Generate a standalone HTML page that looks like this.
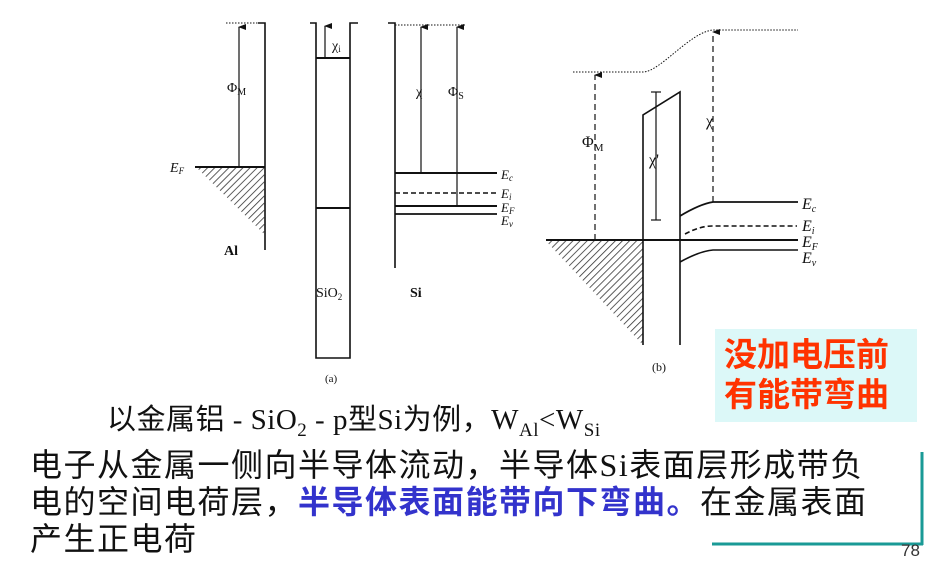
<!DOCTYPE html>
<html><head><meta charset="utf-8"><style>
html,body{margin:0;padding:0;background:#fff;}
body{width:943px;height:572px;position:relative;overflow:hidden;font-family:"Liberation Sans","Noto Sans CJK SC",sans-serif;}
.t{position:absolute;white-space:nowrap;}
</style></head><body>
<svg width="943" height="572" style="position:absolute;left:0;top:0" xmlns="http://www.w3.org/2000/svg">
<defs>
<pattern id="h" width="5" height="5" patternUnits="userSpaceOnUse" patternTransform="rotate(45)">
<line x1="0" y1="0" x2="0" y2="5" stroke="#333" stroke-width="1.6"/></pattern>
<marker id="a" markerWidth="6" markerHeight="8" refX="3" refY="1" orient="auto-start-reverse" markerUnits="userSpaceOnUse"><path d="M0,8 L3,0 L6,8 Z" fill="#111"/></marker>
</defs>
<g stroke="#111" fill="none" stroke-width="1.6">
<line x1="226" y1="23" x2="264" y2="23" stroke-dasharray="1.5,1.5" stroke-width="1"/>
<polyline points="258,23 265,23 265,250"/>
<line x1="195" y1="167" x2="265" y2="167" stroke-width="2"/>
<polygon points="197,168 265,168 265,235" fill="url(#h)" stroke="none"/>
<line x1="239" y1="167" x2="239" y2="27" stroke-width="1.2" marker-end="url(#a)"/>
<polyline points="310,23 316,23 316,358 350,358 350,23 358,23"/>
<line x1="316" y1="58" x2="350" y2="58" stroke-width="2"/>
<line x1="316" y1="208" x2="350" y2="208" stroke-width="2"/>
<line x1="325" y1="58" x2="325" y2="26" stroke-width="1.2" marker-end="url(#a)"/>
<polyline points="388,23 395,23 395,268"/>
<line x1="395" y1="25" x2="465" y2="25" stroke-dasharray="1.5,1.5" stroke-width="1"/>
<line x1="395" y1="173" x2="497" y2="173" stroke-width="2"/>
<line x1="395" y1="193" x2="497" y2="193" stroke-dasharray="5,3"/>
<line x1="395" y1="206" x2="497" y2="206" stroke-width="2"/>
<line x1="395" y1="214" x2="497" y2="214" stroke-width="1.8"/>
<line x1="421" y1="173" x2="421" y2="27" stroke-width="1.2" marker-end="url(#a)"/>
<line x1="457" y1="206" x2="457" y2="27" stroke-width="1.2" marker-end="url(#a)"/>
<path d="M573,72 L643,72 C660,72 690,32 713,30 L798,30" stroke-dasharray="1.5,1.5" stroke-width="1"/>
<polygon points="546,241 643,241 643,345" fill="url(#h)" stroke="none"/>
<line x1="546" y1="240" x2="798" y2="240" stroke-width="2"/>
<polyline points="643,345 643,115 680,92 680,345"/>
<line x1="656" y1="92" x2="656" y2="220" stroke-width="1.2"/>
<line x1="651" y1="92" x2="661" y2="92" stroke-width="1.2"/>
<line x1="651" y1="220" x2="661" y2="220" stroke-width="1.2"/>
<line x1="595" y1="240" x2="595" y2="75" stroke-width="1.2" stroke-dasharray="6,4" marker-end="url(#a)"/>
<line x1="713" y1="202" x2="713" y2="32" stroke-width="1.2" stroke-dasharray="6,4" marker-end="url(#a)"/>
<path d="M680,216 Q700,204 713,202 L798,202" stroke-width="1.8"/>
<path d="M685,234 Q700,226 712,226 L797,226" stroke-dasharray="5,3"/>
<path d="M680,262 Q700,251 713,250 L798,250" stroke-width="1.6"/>
</g>
<g font-family="Liberation Serif, serif" fill="#111" font-size="14">
<text x="227" y="92">Φ<tspan font-size="10" dy="3">M</tspan></text>
<text x="170" y="172" font-style="italic">E<tspan font-size="9" dy="2">F</tspan></text>
<text x="224" y="255" font-weight="bold">Al</text>
<text x="332" y="50">χ<tspan font-size="9" dy="2">i</tspan></text>
<text x="316" y="297">SiO<tspan font-size="9" dy="3">2</tspan></text>
<text x="325" y="382" font-size="11">(a)</text>
<text x="416" y="96">χ</text>
<text x="448" y="96">Φ<tspan font-size="10" dy="3">S</tspan></text>
<text x="410" y="297" font-weight="bold">Si</text>
<g font-style="italic" font-size="13">
<text x="501" y="179">E<tspan font-size="9" dy="2">c</tspan></text>
<text x="501" y="198">E<tspan font-size="9" dy="2">i</tspan></text>
<text x="501" y="212">E<tspan font-size="9" dy="2">F</tspan></text>
<text x="501" y="225">E<tspan font-size="9" dy="2">v</tspan></text>
</g>
<text x="582" y="147" font-size="16">Φ<tspan font-size="11" dy="4">M</tspan></text>
<text x="649" y="165" font-size="16">χ'</text>
<text x="706" y="126" font-size="16">χ</text>
<g font-style="italic" font-size="16">
<text x="802" y="209">E<tspan font-size="10" dy="3">c</tspan></text>
<text x="802" y="231">E<tspan font-size="10" dy="3">i</tspan></text>
<text x="802" y="247">E<tspan font-size="10" dy="3">F</tspan></text>
<text x="802" y="263">E<tspan font-size="10" dy="3">v</tspan></text>
</g>
<text x="652" y="371" font-size="12">(b)</text>
</g>
<rect x="715" y="329" width="202" height="93" fill="#dcf8f8"/>
<line x1="922" y1="452" x2="922" y2="545" stroke="#1a9a96" stroke-width="3"/>
<line x1="712" y1="544" x2="923" y2="544" stroke="#1a9a96" stroke-width="3"/>
</svg>
<div class="t" style="left:724px;top:335px;font-size:33px;line-height:40px;font-weight:bold;color:#ff3300;">没加电压前<br>有能带弯曲</div>
<div class="t" style="left:107px;top:396px;font-size:29px;letter-spacing:0.5px;font-family:'Liberation Serif','Noto Sans CJK SC',serif;color:#111;">以金属铝 - SiO<sub style="font-size:19px">2</sub> - p型Si为例，W<sub style="font-size:19px">Al</sub>&lt;W<sub style="font-size:19px">Si</sub></div>
<div class="t" style="left:30px;top:447px;font-size:32px;line-height:37px;letter-spacing:1.5px;color:#111;">电子从金属一侧向半导体流动，半导体<span style="font-family:'Liberation Serif',serif">Si</span>表面层形成带负<br>电的空间电荷层，<b style="color:#3333cc">半导体表面能带向下弯曲。</b>在金属表面<br>产生正电荷</div>
<div class="t" style="left:901px;top:541px;font-size:17px;color:#333;">78</div>
</body></html>
